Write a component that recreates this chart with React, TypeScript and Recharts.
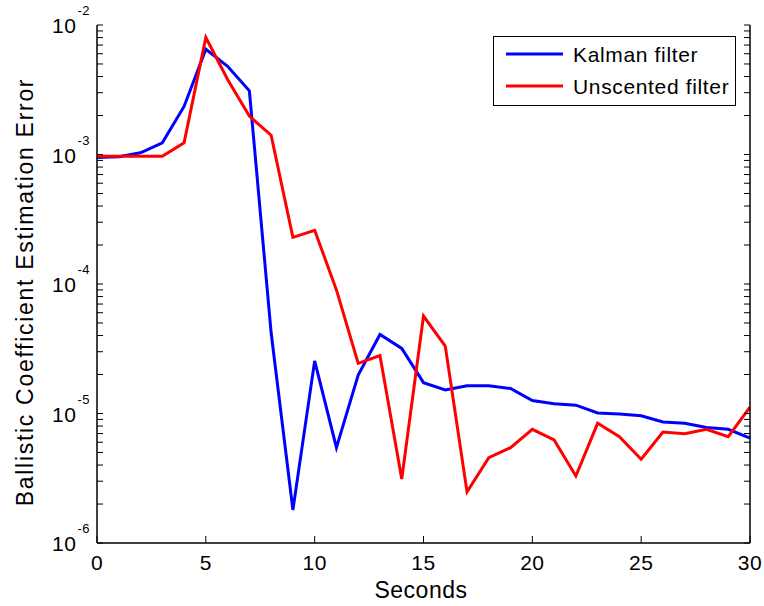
import React from 'react';
import { LineChart, Line, XAxis, YAxis } from 'recharts';

const seconds = [0, 1, 2, 3, 4, 5, 6, 7, 8, 9, 10, 11, 12, 13, 14, 15, 16, 17, 18, 19, 20, 21, 22, 23, 24, 25, 26, 27, 28, 29, 30];

const kalmanError = [
    9.5e-4, 9.6e-4, 1.03e-3, 1.23e-3, 2.35e-3, 6.5e-3, 4.8e-3, 3.1e-3, 4.2e-5, 1.8e-6,
    2.55e-5, 5.45e-6, 1.98e-5, 4.08e-5, 3.18e-5, 1.73e-5, 1.52e-5, 1.64e-5, 1.64e-5, 1.56e-5,
    1.26e-5, 1.19e-5, 1.16e-5, 1.01e-5, 9.9e-6, 9.6e-6, 8.6e-6, 8.4e-6, 7.8e-6, 7.55e-6, 6.45e-6,
];

const unscentedError = [
    9.7e-4, 9.7e-4, 9.7e-4, 9.7e-4, 1.23e-3, 8.0e-3, 3.8e-3, 1.98e-3, 1.41e-3, 2.29e-4,
    2.6e-4, 9.0e-5, 2.44e-5, 2.8e-5, 3.12e-6, 5.66e-5, 3.32e-5, 2.48e-6, 4.56e-6, 5.45e-6,
    7.55e-6, 6.24e-6, 3.29e-6, 8.4e-6, 6.62e-6, 4.43e-6, 7.2e-6, 6.98e-6, 7.55e-6, 6.62e-6, 1.12e-5,
];

const xTicks = [0, 5, 10, 15, 20, 25, 30];
const yExponents = [-6, -5, -4, -3, -2];
const yTicks: number[] = [];
yExponents.forEach((e, i) => {
    const base = Math.pow(10, e);
    yTicks.push(base);
    if (i < yExponents.length - 1) {
        for (let m = 2; m <= 9; m++) yTicks.push(m * base);
    }
});

const legendItems = [
    { name: 'Kalman filter', color: '#0000ff' },
    { name: 'Unscented filter', color: '#ff0000' },
];

const data = seconds.map((t, i) => ({ t, kalman: kalmanError[i], unscented: unscentedError[i] }));

const FONT = '"Liberation Sans", Arial, sans-serif';
const AXIS_LINE = { stroke: '#000', strokeWidth: 1.5 };

const isMajor = (v: number) => {
    const l = Math.log10(v);
    return Math.abs(l - Math.round(l)) < 1e-6;
};

const LeftTick = (props: any) => {
    const { x, y, payload } = props;
    const v = payload.value;
    const major = isMajor(v);
    return (
        <g>
            <line x1={x} x2={x + 6} y1={y} y2={y} stroke="#000" strokeWidth={1} />
            {major && (
                <text x={x - 7} y={y + 8} textAnchor="end" fontSize={21} fontFamily={FONT} fill="#000" letterSpacing={0.5}>
                    10
                    <tspan dx={1} dy={-18} fontSize={13}>{Math.round(Math.log10(v))}</tspan>
                </text>
            )}
        </g>
    );
};

const RightTick = (props: any) => {
    const { x, y } = props;
    return <line x1={x - 6} x2={x} y1={y} y2={y} stroke="#000" strokeWidth={1} />;
};

const BottomTick = (props: any) => {
    const { x, y, payload } = props;
    return (
        <g>
            <line x1={x} x2={x} y1={y} y2={y - 7} stroke="#000" strokeWidth={1} />
            <text x={x} y={y + 27} textAnchor="middle" fontSize={21} fontFamily={FONT} fill="#000" letterSpacing={0.5}>
                {payload.value}
            </text>
        </g>
    );
};

const TopTick = (props: any) => {
    const { x, y } = props;
    return <line x1={x} x2={x} y1={y} y2={y + 7} stroke="#000" strokeWidth={1} />;
};

const LegendBox = () => (
    <svg width={764} height={606} style={{ position: 'absolute', left: 0, top: 0, pointerEvents: 'none' }}>
        <rect x={493.5} y={36.5} width={242} height={69} fill="#fff" stroke="#000" strokeWidth={1} />
        {legendItems.map((item, i) => (
            <g key={item.name}>
                <line x1={506} x2={563} y1={54 + i * 32} y2={54 + i * 32} stroke={item.color} strokeWidth={3} />
                <text x={573} y={62 + i * 32} fontSize={21} fontFamily={FONT} fill="#000" letterSpacing={0.65}>
                    {item.name}
                </text>
            </g>
        ))}
    </svg>
);

const YLabel = () => {
    const cx = 33;
    const cy = 292;
    return (
        <text
            x={cx}
            y={cy}
            transform={`rotate(-90, ${cx}, ${cy})`}
            textAnchor="middle"
            fontSize={23}
            fontFamily={FONT}
            fill="#000"
            letterSpacing={1.7}
        >
            Ballistic Coefficient Estimation Error
        </text>
    );
};

const XLabel = () => (
    <text x={421} y={598} textAnchor="middle" fontSize={23} fontFamily={FONT} fill="#000" letterSpacing={0.5}>
        Seconds
    </text>
);

export default function App() {
    return (
        <div style={{ position: 'absolute', left: 0, top: 0, width: 764, height: 606, background: '#fff' }}>
            <LineChart width={764} height={606} data={data} margin={{ top: 25, right: 0, left: 0, bottom: 0 }}>
                <XAxis
                    xAxisId="bottom"
                    dataKey="t"
                    type="number"
                    domain={[0, 30]}
                    ticks={xTicks}
                    height={63}
                    tickSize={0}
                    tickMargin={0}
                    tickLine={false}
                    axisLine={AXIS_LINE}
                    tick={<BottomTick />}
                    interval={0}
                    label={<XLabel />}
                />
                <XAxis
                    xAxisId="top"
                    orientation="top"
                    dataKey="t"
                    type="number"
                    domain={[0, 30]}
                    ticks={xTicks}
                    height={0}
                    tickSize={0}
                    tickMargin={0}
                    tickLine={false}
                    axisLine={AXIS_LINE}
                    tick={<TopTick />}
                    interval={0}
                />
                <YAxis
                    yAxisId="left"
                    scale="log"
                    domain={[1e-6, 1e-2]}
                    allowDataOverflow
                    ticks={yTicks}
                    width={97}
                    tickSize={0}
                    tickMargin={0}
                    tickLine={false}
                    axisLine={AXIS_LINE}
                    tick={<LeftTick />}
                    interval={0}
                    label={<YLabel />}
                />
                <YAxis
                    yAxisId="right"
                    orientation="right"
                    scale="log"
                    domain={[1e-6, 1e-2]}
                    allowDataOverflow
                    ticks={yTicks}
                    width={14}
                    tickSize={0}
                    tickMargin={0}
                    tickLine={false}
                    axisLine={AXIS_LINE}
                    tick={<RightTick />}
                    interval={0}
                />
                <Line
                    xAxisId="bottom"
                    yAxisId="left"
                    dataKey="kalman"
                    name="Kalman filter"
                    type="linear"
                    stroke="#0000ff"
                    strokeWidth={3}
                    dot={false}
                    isAnimationActive={false}
                />
                <Line
                    xAxisId="bottom"
                    yAxisId="left"
                    dataKey="unscented"
                    name="Unscented filter"
                    type="linear"
                    stroke="#ff0000"
                    strokeWidth={3}
                    dot={false}
                    isAnimationActive={false}
                />
            </LineChart>
            <LegendBox />
        </div>
    );
}
